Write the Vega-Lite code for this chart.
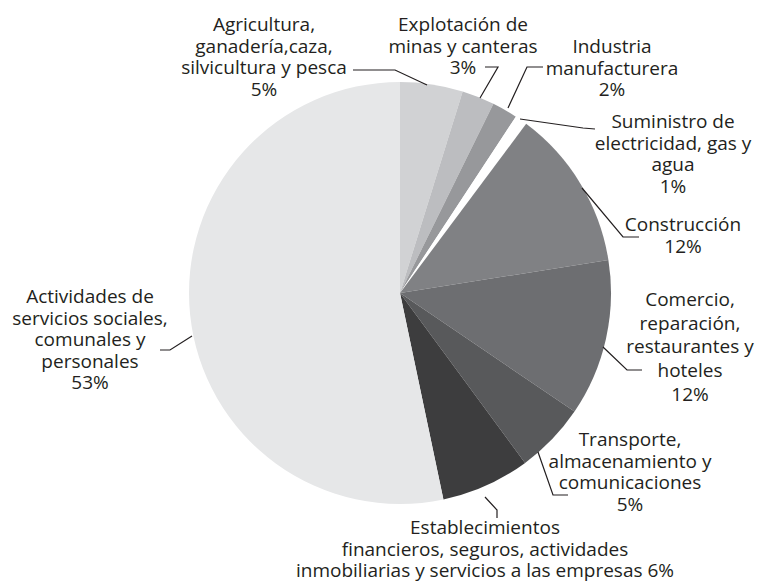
{
  "$schema": "https://vega.github.io/schema/vega-lite/v6.json",
  "width": 714,
  "height": 578,
  "autosize": {"type": "none"},
  "padding": {"left": 43, "right": 0, "top": 4, "bottom": 0},
  "background": "white",
  "config": {"view": {"stroke": null}},
  "datasets": {
    "slices": [
      {"sector": "Agricultura", "order": 1, "value": 4.8},
      {"sector": "Explotación", "order": 2, "value": 2.5},
      {"sector": "Industria", "order": 3, "value": 1.95},
      {"sector": "Suministro", "order": 4, "value": 0.95},
      {"sector": "Construcción", "order": 5, "value": 12.3},
      {"sector": "Comercio", "order": 6, "value": 12.0},
      {"sector": "Transporte", "order": 7, "value": 5.4},
      {"sector": "Establecimientos", "order": 8, "value": 6.8},
      {"sector": "Actividades", "order": 9, "value": 53.3}
    ],
    "leaders": [
      {"id": "Agricultura", "i": 1, "x": -47, "y": -223},
      {"id": "Agricultura", "i": 2, "x": -5, "y": -223},
      {"id": "Agricultura", "i": 3, "x": 27, "y": -208},
      {"id": "Explotación", "i": 1, "x": 85, "y": -226},
      {"id": "Explotación", "i": 2, "x": 98, "y": -226},
      {"id": "Explotación", "i": 3, "x": 80, "y": -195},
      {"id": "Industria", "i": 1, "x": 143, "y": -226},
      {"id": "Industria", "i": 2, "x": 127, "y": -226},
      {"id": "Industria", "i": 3, "x": 108, "y": -185},
      {"id": "Suministro", "i": 1, "x": 120, "y": -174},
      {"id": "Suministro", "i": 2, "x": 183, "y": -165},
      {"id": "Suministro", "i": 3, "x": 195, "y": -164},
      {"id": "Construcción", "i": 1, "x": 182, "y": -105},
      {"id": "Construcción", "i": 2, "x": 223, "y": -56},
      {"id": "Construcción", "i": 3, "x": 239, "y": -56},
      {"id": "Comercio", "i": 1, "x": 203, "y": 54},
      {"id": "Comercio", "i": 2, "x": 227, "y": 77},
      {"id": "Comercio", "i": 3, "x": 242, "y": 77},
      {"id": "Transporte", "i": 1, "x": 138, "y": 159},
      {"id": "Transporte", "i": 2, "x": 153, "y": 202},
      {"id": "Transporte", "i": 3, "x": 168, "y": 202},
      {"id": "Establecimientos", "i": 1, "x": 85, "y": 204},
      {"id": "Establecimientos", "i": 2, "x": 97, "y": 217},
      {"id": "Establecimientos", "i": 3, "x": 97, "y": 225},
      {"id": "Actividades", "i": 1, "x": -208, "y": 43},
      {"id": "Actividades", "i": 2, "x": -230, "y": 57},
      {"id": "Actividades", "i": 3, "x": -240, "y": 57}
    ],
    "labels": [
      {"id": "Agricultura", "x": -136, "y": -268, "text": ["Agricultura,", "ganadería,caza,", "silvicultura y pesca", "5%"]},
      {"id": "Explotación", "x": 63, "y": -268, "text": ["Explotación de", "minas y canteras", "3%"]},
      {"id": "Industria", "x": 212, "y": -246, "text": ["Industria", "manufacturera", "2%"]},
      {"id": "Suministro", "x": 273, "y": -171, "text": ["Suministro de", "electricidad, gas y", "agua", "1%"]},
      {"id": "Construcción", "x": 283, "y": -68, "text": ["Construcción", "12%"]},
      {"id": "Transporte", "x": 230, "y": 147, "text": ["Transporte,", "almacenamiento y", "comunicaciones", "5%"]},
      {"id": "Establecimientos", "x": 85, "y": 235, "text": ["Establecimientos", "financieros, seguros, actividades", "inmobiliarias y servicios a las empresas 6%"]},
      {"id": "Actividades", "x": -310, "y": 4, "text": ["Actividades de", "servicios sociales,", "comunales y", "personales", "53%"]}
    ],
    "labels2": [
      {"id": "Comercio", "x": 290, "y": 7, "text": ["Comercio,", "reparación,", "restaurantes y", "hoteles", "12%"]}
    ]
  },
  "resolve": {"scale": {"x": "shared", "y": "shared"}},
  "layer": [
    {
      "data": {"name": "slices"},
      "mark": {"type": "arc", "outerRadius": 211, "innerRadius": 0},
      "encoding": {
        "theta": {"field": "value", "type": "quantitative", "stack": true},
        "order": {"field": "order", "type": "quantitative"},
        "color": {
          "field": "sector",
          "type": "nominal",
          "legend": null,
          "scale": {
            "domain": ["Agricultura", "Explotación", "Industria", "Suministro", "Construcción", "Comercio", "Transporte", "Establecimientos", "Actividades"],
            "range": ["#d1d2d4", "#bcbdc0", "#97989b", "#ffffff", "#808184", "#6d6e71", "#58595b", "#3d3d3e", "#e6e7e8"]
          }
        }
      }
    },
    {
      "data": {"name": "leaders"},
      "mark": {"type": "line", "color": "#231f20", "strokeWidth": 1.2},
      "encoding": {
        "x": {"field": "x", "type": "quantitative", "scale": {"domain": [-357, 357], "nice": false, "zero": false}, "axis": null},
        "y": {"field": "y", "type": "quantitative", "scale": {"domain": [-289, 289], "nice": false, "zero": false, "reverse": true}, "axis": null},
        "detail": {"field": "id", "type": "nominal"},
        "order": {"field": "i", "type": "quantitative"}
      }
    },
    {
      "data": {"name": "labels"},
      "mark": {"type": "text", "font": "Open Sans", "fontSize": 19, "lineHeight": 21.5, "align": "center", "baseline": "middle", "color": "#231f20"},
      "encoding": {
        "x": {"field": "x", "type": "quantitative", "scale": {"domain": [-357, 357], "nice": false, "zero": false}, "axis": null},
        "y": {"field": "y", "type": "quantitative", "scale": {"domain": [-289, 289], "nice": false, "zero": false, "reverse": true}, "axis": null},
        "text": {"field": "text"}
      }
    },
    {
      "data": {"name": "labels2"},
      "mark": {"type": "text", "font": "Open Sans", "fontSize": 19, "lineHeight": 23.7, "align": "center", "baseline": "middle", "color": "#231f20"},
      "encoding": {
        "x": {"field": "x", "type": "quantitative", "scale": {"domain": [-357, 357], "nice": false, "zero": false}, "axis": null},
        "y": {"field": "y", "type": "quantitative", "scale": {"domain": [-289, 289], "nice": false, "zero": false, "reverse": true}, "axis": null},
        "text": {"field": "text"}
      }
    }
  ]
}
